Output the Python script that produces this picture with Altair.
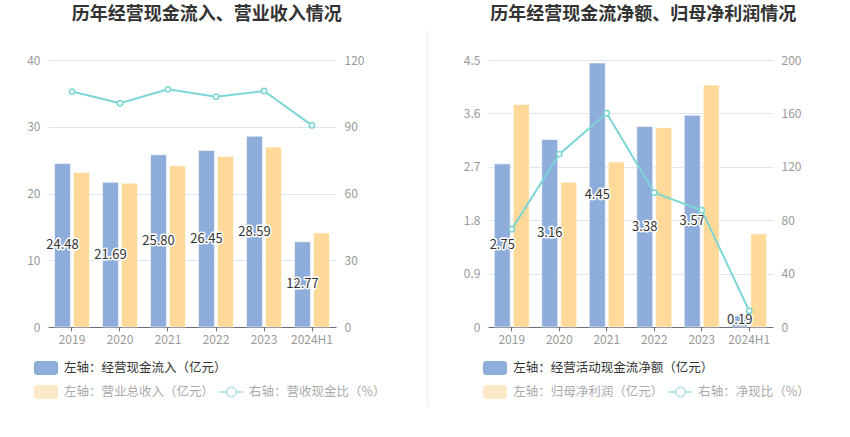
import altair as alt
import pandas as pd

years = ["2019", "2020", "2021", "2022", "2023", "2024H1"]

# Left panel
inflow = [24.48, 21.69, 25.80, 26.45, 28.59, 12.77]
revenue = [23.15, 21.55, 24.15, 25.55, 26.95, 14.10]
ratio_rev = [105.8, 100.6, 106.8, 103.5, 106.1, 90.6]

# Right panel
netcf = [2.75, 3.16, 4.45, 3.38, 3.57, 0.19]
netprofit = [3.75, 2.44, 2.78, 3.36, 4.08, 1.57]
ratio_np = [73.3, 129.5, 160.1, 100.6, 87.5, 12.1]

FONT = "Noto Sans CJK SC"
BLUE = "#8eaddb"
ORANGE = "#ffd99a"
TEAL = "#7dd5d5"
H = 267
BW = 16
OFF = 9.5


def panel(title, s1, v1, s2, v2, s3, v3, lticks, rticks, width, pin, pout,
          leg, sep=False):
    ymax = lticks[-1]
    rmax = rticks[-1]
    df = pd.DataFrame({"year": years, "a": v1, "b": v2, "r": v3,
                       "label": [f"{v:.2f}" for v in v1]})
    one = pd.DataFrame({"z": [0]})

    xenc = alt.X("year:N", sort=years,
                 scale=alt.Scale(paddingInner=pin, paddingOuter=pout),
                 axis=alt.Axis(title=None, labelAngle=0, domainColor="#6e7079",
                               tickColor="#6e7079", tickSize=4, labelPadding=3,
                               bandPosition=0.5, grid=False))

    def lscale():
        return alt.Scale(domain=[0, ymax], nice=False, zero=True)

    def rscale():
        return alt.Scale(domain=[0, rmax], nice=False, zero=True)

    yaxis = alt.Axis(title=None, values=lticks, labelExpr="'' + datum.value",
                     grid=True, gridColor="#e0e6f1", domain=False, ticks=False,
                     labelPadding=8, orient="left")
    raxis = alt.Axis(title=None, orient="right", values=rticks,
                     labelExpr="'' + datum.value",
                     grid=False, domain=False, ticks=False, labelPadding=8)

    base = alt.Chart(df)
    blue = base.mark_bar(color=BLUE, size=BW, xOffset=-OFF, stroke="white",
                         strokeWidth=1, strokeOpacity=0.6).encode(
        x=xenc, y=alt.Y("a:Q", scale=lscale(), axis=yaxis))
    orange = base.mark_bar(color=ORANGE, size=BW, xOffset=OFF, stroke="white",
                           strokeWidth=1, strokeOpacity=0.6).encode(
        x=xenc, y=alt.Y("b:Q", scale=lscale(), axis=None))
    minv = 7.0 / H * ymax
    lab = base.transform_calculate(ly=f"max(datum.a/2, {minv})")
    halo = lab.mark_text(font=FONT, fontSize=13, color="white", stroke="white",
                         strokeWidth=3, strokeJoin="round", baseline="middle",
                         xOffset=-OFF).encode(
        x=xenc, y=alt.Y("ly:Q", scale=lscale(), axis=None), text="label:N")
    labels = lab.mark_text(font=FONT, fontSize=13, color="#333333",
                           baseline="middle", xOffset=-OFF).encode(
        x=xenc, y=alt.Y("ly:Q", scale=lscale(), axis=None), text="label:N")
    line = base.mark_line(color=TEAL, strokeWidth=2).encode(
        x=xenc, y=alt.Y("r:Q", scale=rscale(), axis=raxis))
    pts = base.mark_point(filled=True, fill="white", stroke=TEAL,
                          strokeWidth=1.5, size=28, opacity=1).encode(
        x=xenc, y=alt.Y("r:Q", scale=rscale(), axis=None))

    deco = []
    deco.append(alt.Chart(one).mark_rule(strokeOpacity=0, strokeWidth=0).encode(
        x=alt.value(leg["anchor_x"]), y=alt.value(-60), y2=alt.value(-58)))
    deco.append(alt.Chart(one).mark_text(font=FONT, fontSize=18,
                                         fontWeight="bold", color="#333333",
                                         align="center",
                                         baseline="middle").encode(
        x=alt.value(leg["title_x"]), y=alt.value(-45), text=alt.value(title)))
    deco.append(alt.Chart(one).mark_rect(color=BLUE, cornerRadius=3).encode(
        x=alt.value(leg["rect_x"]), x2=alt.value(leg["rect_x"] + 24),
        y=alt.value(301), y2=alt.value(315)))
    deco.append(alt.Chart(one).mark_text(font=FONT, fontSize=12.5,
                                         color="#333333", align="left",
                                         baseline="middle").encode(
        x=alt.value(leg["text_x"]), y=alt.value(308),
        text=alt.value(f"左轴：{s1}（亿元）")))
    deco.append(alt.Chart(one).mark_rect(color="#fde9c9", cornerRadius=3).encode(
        x=alt.value(leg["rect_x"]), x2=alt.value(leg["rect_x"] + 24),
        y=alt.value(325), y2=alt.value(339)))
    deco.append(alt.Chart(one).mark_text(font=FONT, fontSize=12.5,
                                         color="#aaaaaa", align="left",
                                         baseline="middle").encode(
        x=alt.value(leg["text_x"]), y=alt.value(332),
        text=alt.value(f"左轴：{s2}（亿元）")))
    deco.append(alt.Chart(one).mark_rule(color="#b9e8e8", strokeWidth=2).encode(
        x=alt.value(leg["sym_x"]), x2=alt.value(leg["sym_x"] + 24),
        y=alt.value(332)))
    deco.append(alt.Chart(one).mark_point(filled=True, fill="white",
                                          stroke="#b9e8e8", strokeWidth=2,
                                          size=90, opacity=1).encode(
        x=alt.value(leg["sym_x"] + 12.5), y=alt.value(332)))
    deco.append(alt.Chart(one).mark_text(font=FONT, fontSize=12.5,
                                         color="#aaaaaa", align="left",
                                         baseline="middle").encode(
        x=alt.value(leg["text2_x"]), y=alt.value(332),
        text=alt.value(f"右轴：{s3}（%）")))
    if sep:
        deco.append(alt.Chart(one).mark_rule(color="#eeeeee",
                                             strokeWidth=1).encode(
            x=alt.value(379.5), y=alt.value(-30), y2=alt.value(347)))

    ch = alt.layer(blue, orange, halo, labels, line, pts, *deco).resolve_scale(
        y="independent").properties(width=width, height=H)
    return ch


left = panel("历年经营现金流入、营业收入情况",
             "经营现金流入", inflow, "营业总收入", revenue, "营收现金比",
             ratio_rev, [0, 10, 20, 30, 40], [0, 30, 60, 90, 120],
             288, 0.27, 0.135,
             {"anchor_x": -48, "title_x": 158.7, "rect_x": -14, "text_x": 16,
              "sym_x": 171, "text2_x": 201},
             sep=True)
right = panel("历年经营现金流净额、归母净利润情况",
              "经营活动现金流净额", netcf, "归母净利润", netprofit, "净现比",
              ratio_np, [0, 0.9, 1.8, 2.7, 3.6, 4.5], [0, 40, 80, 120, 160, 200],
              285, 0.263, 0.132,
              {"anchor_x": -30, "title_x": 155.3, "rect_x": -5, "text_x": 25.3,
               "sym_x": 180, "text2_x": 210.3})

chart = alt.hconcat(left, right, spacing=152, bounds="flush").properties(
    padding=0, background="white"
).configure_view(stroke=None).configure_axis(
    labelFont=FONT, labelFontSize=12, labelColor="#999999"
)

chart.save("out.html", embed_options={"renderer": "svg", "actions": False})
